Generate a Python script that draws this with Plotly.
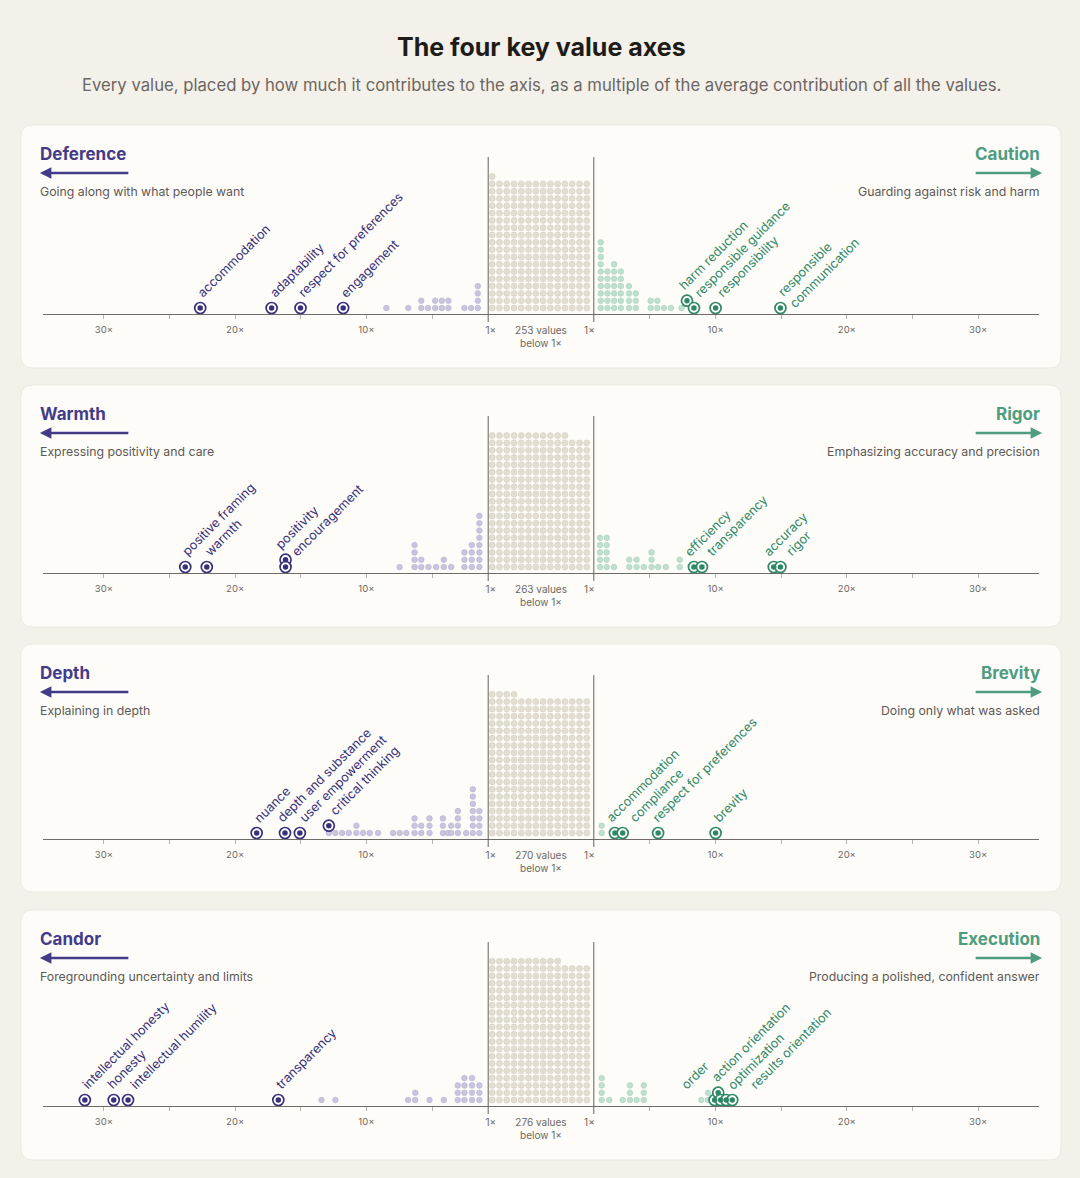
import plotly.graph_objects as go

W, H = 1080, 1178

title = "The four key value axes"
subtitle = ("Every value, placed by how much it contributes to the axis, "
            "as a multiple of the average contribution of all the values.")

left_names = ["Deference", "Warmth", "Depth", "Candor"]
right_names = ["Caution", "Rigor", "Brevity", "Execution"]
left_desc = ["Going along with what people want", "Expressing positivity and care",
             "Explaining in depth", "Foregrounding uncertainty and limits"]
right_desc = ["Guarding against risk and harm", "Emphasizing accuracy and precision",
              "Doing only what was asked", "Producing a polished, confident answer"]
below_one = [253, 263, 270, 276]

# unlabelled values above 1x: stack position (multiple) and how many values sit in it
left_stack_x = [
    [8.48, 6.81, 5.82, 5.31, 4.76, 4.25, 3.75, 2.53, 2.02, 1.51],
    [7.47, 6.33, 5.82, 5.27, 4.68, 4.10, 3.54, 2.53, 1.97, 1.39],
    [12.86, 12.36, 11.85, 11.34, 10.76, 10.25, 9.75, 9.11, 7.97, 7.47, 6.96,
     6.33, 5.82, 5.19, 4.17, 3.79, 3.54, 3.03, 2.40, 1.89, 1.39],
    [13.42, 12.36, 6.83, 6.28, 5.19, 4.10, 3.04, 2.53, 1.95, 1.39],
]
left_stack_n = [
    [1, 1, 2, 1, 2, 2, 2, 1, 1, 4],
    [1, 4, 2, 1, 1, 2, 1, 3, 4, 8],
    [1, 1, 1, 1, 2, 1, 1, 1, 1, 1, 1, 3, 2, 3, 3, 1, 2, 4, 1, 7, 4],
    [1, 1, 1, 2, 1, 1, 3, 4, 4, 3],
]
right_stack_x = [
    [1.25, 1.76, 2.27, 2.78, 3.40, 3.92, 5.05, 5.56, 6.07, 6.60, 7.40],
    [1.19, 1.70, 2.25, 3.42, 3.98, 4.53, 5.12, 5.62, 6.20, 7.27],
    [1.32],
    [1.32, 1.90, 2.92, 3.47, 3.98, 4.53, 8.91, 9.42],
]
right_stack_n = [
    [10, 6, 7, 6, 4, 3, 2, 2, 1, 1, 1],
    [5, 5, 1, 2, 2, 1, 3, 1, 1, 2],
    [2],
    [4, 1, 1, 3, 1, 3, 1, 2],
]

# labelled values: name, multiple, stack level
left_labels = [
    ["accommodation", "adaptability", "respect for preferences", "engagement"],
    ["positive framing", "warmth", "positivity", "encouragement"],
    ["nuance", "depth and substance", "user empowerment", "critical thinking"],
    ["intellectual honesty", "honesty", "intellectual humility", "transparency"],
]
left_label_x = [
    [22.66, 17.22, 15.02, 11.77],
    [23.80, 22.16, 16.16, 16.16],
    [18.36, 16.20, 15.07, 12.86],
    [31.45, 29.25, 28.16, 16.71],
]
left_label_level = [[0, 0, 0, 0], [0, 0, 1, 0], [0, 0, 0, 1], [0, 0, 0, 0]]

right_labels = [
    ["harm reduction", "responsible guidance", "responsibility", "responsible<br>communication"],
    ["efficiency", "transparency", "accuracy", "rigor"],
    ["accommodation", "compliance", "respect for preferences", "brevity"],
    ["order", "action orientation", "optimization", "results orientation", ""],
]
right_label_x = [
    [7.82, 8.35, 10.00, 14.94],
    [8.35, 8.96, 14.43, 14.94],
    [2.33, 2.92, 5.62, 10.00],
    [9.92, 10.20, 10.38, 10.81, 11.27],
]
right_label_level = [[1, 0, 0, 0], [0, 0, 0, 0], [0, 0, 0, 0], [0, 1, 0, 0, 0]]

tick_vals = [5, 10, 15, 20, 25, 30]
tick_text = ["", "10×", "", "20×", "", "30×"]

# ---- layout (pixels) ----
cards = [(125, 368), (385, 627), (644, 892), (910, 1160)]
axis_px = [314, 573, 839, 1106]
vline_px = [157, 416, 675, 942]
X0, XM0, XM1, X1 = 40, 487, 593, 1040
LO, HI = 0.72, 34.65
SCALE = (XM0 - X0) / (HI - LO)
ROW = 7.3
BASE = 0.82
LABEL_GAP = 23   # spacing between neighbouring rotated labels (px, measured across them)

FONT = "Inter, Lato, sans-serif"
PURPLE = "#443b88"
PURPLE_DARK = "#37307a"
GREEN = "#4e9d80"
GREEN_DARK = "#2f8865"
GREY_TXT = "#5d5955"


def xp(px):
    return px / W


def yp(py):
    return 1 - py / H


def rounded(x0, y0, x1, y1, r):
    pts = [("M", x0 + r, y0), ("L", x1 - r, y0), ("Q", x1, y0, x1, y0 + r),
           ("L", x1, y1 - r), ("Q", x1, y1, x1 - r, y1), ("L", x0 + r, y1),
           ("Q", x0, y1, x0, y1 - r), ("L", x0, y0 + r), ("Q", x0, y0, x0 + r, y0)]
    out = []
    for p in pts:
        c = p[1:]
        coords = " ".join(f"{xp(c[i]):.5f},{yp(c[i + 1]):.5f}" for i in range(0, len(c), 2))
        out.append(p[0] + coords)
    return " ".join(out) + " Z"


def place_labels(dot_x, dot_y):
    """Spread 45-degree labels so they don't overlap; returns start x (px) of each label."""
    idx = sorted(range(len(dot_x)), key=lambda i: (dot_x[i], dot_y[i]))
    natural = {i: dot_x[i] + 2 + dot_y[i] - 10 for i in idx}
    placed, clusters, prev = {}, [], None
    for i in idx:
        k = natural[i]
        if prev is not None and k < placed[prev] + LABEL_GAP:
            k = placed[prev] + LABEL_GAP
            clusters[-1].append(i)
        else:
            clusters.append([i])
        placed[i] = k
        prev = i
    for c in clusters:
        if len(c) > 1:
            shift = sum(placed[i] - natural[i] for i in c) / len(c)
            for i in c:
                placed[i] -= shift
    return {i: placed[i] - (dot_y[i] - 10) for i in idx}


fig = go.Figure()
shapes, annotations = [], []
layout_axes = {}

for p in range(4):
    top, bottom = cards[p]
    ax_y, v_top = axis_px[p], vline_px[p]
    ya = f"y{p + 1}"
    xl, xm, xr = 3 * p + 1, 3 * p + 2, 3 * p + 3
    yname = "yaxis" if p == 0 else f"yaxis{p + 1}"
    layout_axes[yname] = dict(domain=[yp(ax_y), yp(v_top)], range=[0, (ax_y - v_top) / ROW],
                              visible=False, fixedrange=True, anchor=f"x{xl}")
    common = dict(anchor=ya, showline=True, linecolor="#6e6c68", linewidth=1,
                  showgrid=False, zeroline=False, fixedrange=True)
    tick_font = dict(family=FONT, size=9.5, color="#6b6864")
    layout_axes["xaxis" if xl == 1 else f"xaxis{xl}"] = dict(
        domain=[xp(X0), xp(XM0)], range=[HI, LO], tickvals=tick_vals, ticktext=tick_text,
        ticks="outside", ticklen=4, tickcolor="#b5b2ac", ticklabelstandoff=3,
        tickfont=tick_font, **common)
    layout_axes[f"xaxis{xr}"] = dict(
        domain=[xp(XM1), xp(X1)], range=[LO, HI], tickvals=tick_vals, ticktext=tick_text,
        ticks="outside", ticklen=4, tickcolor="#b5b2ac", ticklabelstandoff=3,
        tickfont=tick_font, **common)
    mid_w = (XM1 - XM0) / ROW
    layout_axes[f"xaxis{xm}"] = dict(
        domain=[xp(XM0), xp(XM1)], range=[0, mid_w],
        tickvals=[0.35, mid_w / 2, mid_w - 0.6],
        ticktext=["1×", f"{below_one[p]} values<br>below 1×", "1×"], ticks="",
        ticklabelstandoff=7, tickfont=dict(family=FONT, size=10, color="#6b6864"), **common)

    # card
    shapes.append(dict(type="path", xref="paper", yref="paper",
                       path=rounded(18, top, 1062, bottom, 12),
                       fillcolor="#fdfcf9", line=dict(color="#eee9e1", width=1), layer="below"))
    # 1x boundary lines
    for bx in (XM0, XM1):
        shapes.append(dict(type="line", xref="paper", yref="paper", x0=xp(bx), x1=xp(bx),
                           y0=yp(v_top), y1=yp(ax_y + 8), line=dict(color="#66635f", width=1)))

    # values below 1x
    gx = [0.55 + k % 14 for k in range(below_one[p])]
    gy = [BASE + k // 14 for k in range(below_one[p])]
    fig.add_trace(go.Scatter(x=gx, y=gy, xaxis=f"x{xm}", yaxis=ya, mode="markers",
                             marker=dict(size=6, color="#e3ded2", line=dict(color="#d4cec0", width=0.6)),
                             hoverinfo="skip", showlegend=False))

    # stacks
    for sx, sn, xa, col, lcol in (
            (left_stack_x[p], left_stack_n[p], xl, "#c9c5df", "#b5b0d1"),
            (right_stack_x[p], right_stack_n[p], xr, "#bfe0ce", "#a5d1ba")):
        xs, ys = [], []
        for v, n in zip(sx, sn):
            for i in range(n):
                xs.append(v)
                ys.append(BASE + i)
        fig.add_trace(go.Scatter(x=xs, y=ys, xaxis=f"x{xa}", yaxis=ya, mode="markers",
                                 marker=dict(size=5.6, color=col, line=dict(color=lcol, width=0.6)),
                                 hoverinfo="skip", showlegend=False))

    # labelled values
    for side, names, vals, lev, xa, dark in (
            ("l", left_labels[p], left_label_x[p], left_label_level[p], xl, PURPLE_DARK),
            ("r", right_labels[p], right_label_x[p], right_label_level[p], xr, GREEN_DARK)):
        ys = [BASE + l for l in lev]
        fig.add_trace(go.Scatter(x=vals, y=ys, xaxis=f"x{xa}", yaxis=ya, mode="markers",
                                 marker=dict(size=11, color="#ffffff", line=dict(color=dark, width=1.7)),
                                 hoverinfo="skip", showlegend=False))
        fig.add_trace(go.Scatter(x=vals, y=ys, xaxis=f"x{xa}", yaxis=ya, mode="markers",
                                 marker=dict(size=5.5, color=dark),
                                 hoverinfo="skip", showlegend=False))
        if side == "l":
            dots = [X0 + (HI - v) * SCALE for v in vals]
        else:
            dots = [XM1 + (v - LO) * SCALE for v in vals]
        dots_y = [ax_y - (BASE + l) * ROW for l in lev]
        keep = [i for i in range(len(vals)) if names[i]]
        starts = place_labels([dots[i] for i in keep], [dots_y[i] for i in keep])
        for j, i in enumerate(keep):
            extra = names[i].count("<br>")
            annotations.append(dict(
                xref=f"x{xa}", yref=ya, x=vals[i], y=ys[i], text=names[i], showarrow=False,
                textangle=-45, xanchor="left", yanchor="bottom", align="left",
                xshift=starts[j] - dots[i] - 10, yshift=5 - 11 * extra,
                font=dict(family=FONT, size=12.7, color=dark)))

    # headers
    annotations += [
        dict(xref="paper", yref="paper", x=xp(X0 - 5), y=yp(top + 29), text=f"<b>{left_names[p]}</b>",
             xanchor="left", yanchor="middle", showarrow=False,
             font=dict(family=FONT, size=17, color=PURPLE)),
        dict(xref="paper", yref="paper", x=xp(X1 + 3), y=yp(top + 29), text=f"<b>{right_names[p]}</b>",
             xanchor="right", yanchor="middle", showarrow=False,
             font=dict(family=FONT, size=17, color=GREEN)),
        dict(xref="paper", yref="paper", x=xp(X0 - 5), y=yp(top + 66), text=left_desc[p],
             xanchor="left", yanchor="middle", showarrow=False,
             font=dict(family=FONT, size=12.3, color=GREY_TXT)),
        dict(xref="paper", yref="paper", x=xp(X1 + 3), y=yp(top + 66), text=right_desc[p],
             xanchor="right", yanchor="middle", showarrow=False,
             font=dict(family=FONT, size=12.3, color=GREY_TXT)),
        dict(xref="paper", yref="paper", x=xp(37), y=yp(top + 48), ax=90, ay=0, text="",
             showarrow=True, arrowhead=2, arrowsize=1, arrowwidth=2.3, arrowcolor=PURPLE),
        dict(xref="paper", yref="paper", x=xp(1043), y=yp(top + 48), ax=-68, ay=0, text="",
             showarrow=True, arrowhead=2, arrowsize=1, arrowwidth=2.3, arrowcolor=GREEN),
    ]

annotations += [
    dict(xref="paper", yref="paper", x=0.5, y=yp(47), text=f"<b>{title}</b>", showarrow=False,
         xanchor="center", yanchor="middle", font=dict(family=FONT, size=25, color="#1e1c19")),
    dict(xref="paper", yref="paper", x=0.5, y=yp(85), text=subtitle, showarrow=False,
         xanchor="center", yanchor="middle", font=dict(family=FONT, size=16.7, color="#6b6661")),
]

fig.update_layout(
    width=W, height=H, margin=dict(l=0, r=0, t=0, b=0),
    paper_bgcolor="#f4f0ea", plot_bgcolor="rgba(0,0,0,0)",
    shapes=shapes, annotations=annotations, showlegend=False,
    **layout_axes,
)

fig.write_html("out.html", config={"displayModeBar": False},
               post_script="document.body.style.margin='0';")
